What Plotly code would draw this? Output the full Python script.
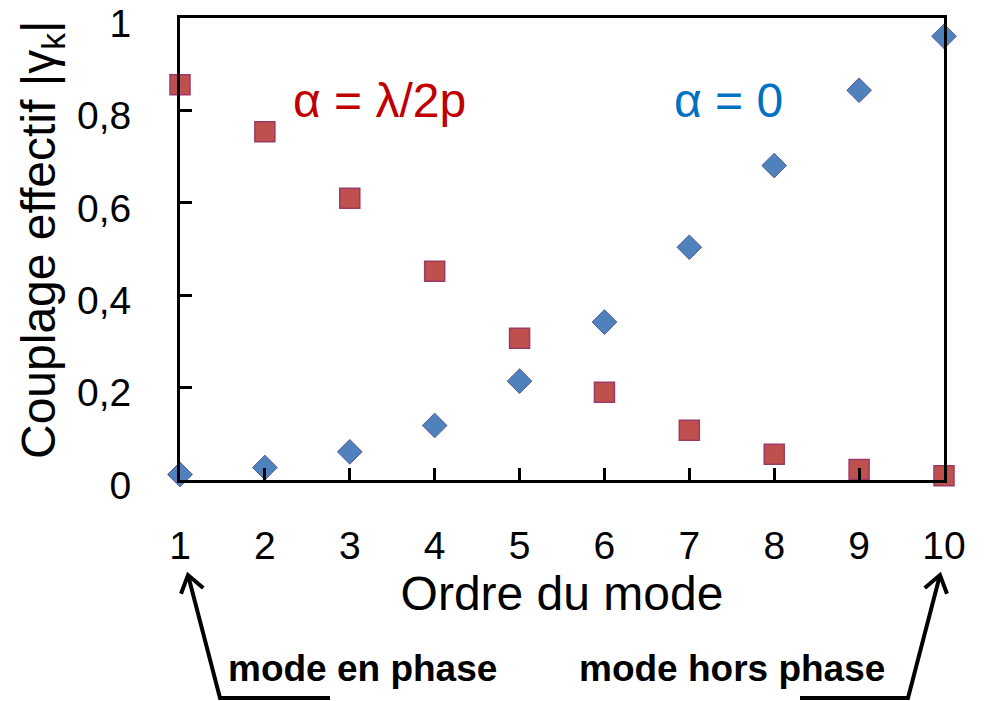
import plotly.graph_objects as go
import math

modes = [1, 2, 3, 4, 5, 6, 7, 8, 9, 10]
coupling_alpha0 = [0.012, 0.027, 0.061, 0.118, 0.214, 0.342, 0.504, 0.681, 0.844, 0.961]
coupling_alpha_half = [0.856, 0.754, 0.610, 0.452, 0.307, 0.190, 0.108, 0.056, 0.023, 0.009]
y_tick_vals = [0, 0.2, 0.4, 0.6, 0.8, 1]
y_tick_text = ["0", "0,2", "0,4", "0,6", "0,8", "1"]
x_tick_vals = modes
x_tick_text = [str(m) for m in modes]

# page offset (body margin) compensation
OFF = 8
W, H = 984 - OFF, 701 - OFF
L, R, T, B = 180 - OFF, 40, 18 - OFF, 221
PW, PH = W - L - R, H - T - B
FONT = "Liberation Sans, Arial, sans-serif"


def px(xs):
    # screen pixel -> paper x
    return (xs - OFF - L) / PW


def py(ys):
    # screen pixel -> paper y
    return (H - B - (ys - OFF)) / PH


fig = go.Figure()
fig.add_trace(go.Scatter(
    x=modes, y=coupling_alpha_half, mode="markers", cliponaxis=False,
    marker=dict(symbol="square", size=20, color="#C0504D",
                line=dict(color="#9A3A66", width=1.5)),
    showlegend=False))
fig.add_trace(go.Scatter(
    x=modes, y=coupling_alpha0, mode="markers", cliponaxis=False,
    marker=dict(symbol="diamond", size=19, color="#4F81BD",
                line=dict(color="#5A5A9A", width=1)),
    showlegend=False))

shapes = []
arrows = [((220, 698), (188, 575), (330, 698)),
          ((908, 698), (940, 575), (800, 698))]
for tail, tip, foot in arrows:
    shapes.append(dict(type="path", xref="paper", yref="paper",
                       path=f"M {px(foot[0])},{py(foot[1])} L {px(tail[0])},{py(tail[1])} L {px(tip[0])},{py(tip[1])}",
                       line=dict(color="black", width=4)))
    dx, dy = tip[0] - tail[0], tip[1] - tail[1]
    n = math.hypot(dx, dy)
    ux, uy = dx / n, dy / n
    pts = []
    for ang in (35, -35):
        a = math.radians(ang)
        rx = ux * math.cos(a) - uy * math.sin(a)
        ry = ux * math.sin(a) + uy * math.cos(a)
        pts.append((tip[0] - 20 * rx, tip[1] - 20 * ry))
    shapes.append(dict(type="path", xref="paper", yref="paper",
                       path=f"M {px(pts[0][0])},{py(pts[0][1])} L {px(tip[0])},{py(tip[1])} L {px(pts[1][0])},{py(pts[1][1])}",
                       line=dict(color="black", width=4)))


def label(text, xs, ys, size, color, bold=False, angle=0):
    return dict(text=f"<b>{text}</b>" if bold else text, x=px(xs), y=py(ys),
                xref="paper", yref="paper", xanchor="center", yanchor="middle",
                textangle=angle,
                showarrow=False, font=dict(size=size, color=color, family=FONT))


annotations = [
    label("α = λ/2p", 379, 100, 48, "#C00000"),
    label("α = 0", 728, 100, 48, "#0070C0"),
    label("mode en phase", 362, 668, 37, "black", True),
    label("mode hors phase", 732, 668, 37, "black", True),
    label("Couplage effectif |γ<sub>k</sub>|", 42, 240, 48, "black", angle=-90),
]

fig.update_layout(
    width=W, height=H,
    margin=dict(l=L, r=R, t=T, b=B, autoexpand=False),
    paper_bgcolor="white", plot_bgcolor="white",
    font=dict(family=FONT, color="black"),
    shapes=shapes, annotations=annotations,
)
fig.update_xaxes(
    range=[1, 10], tickvals=x_tick_vals, ticktext=x_tick_text,
    ticks="inside", ticklen=12, tickwidth=3, tickcolor="black",
    showline=True, linewidth=3, linecolor="black", mirror=True,
    showgrid=False, zeroline=False, tickfont=dict(size=39),
    ticklabelstandoff=29,
    title=dict(text="Ordre du mode", font=dict(size=48), standoff=6),
    automargin=False,
)
fig.update_yaxes(
    range=[0, 1.0005], tickvals=y_tick_vals, ticktext=y_tick_text,
    ticks="inside", ticklen=12, tickwidth=3, tickcolor="black",
    showline=True, linewidth=3, linecolor="black", mirror=True,
    showgrid=False, zeroline=False, tickfont=dict(size=39),
    ticklabelstandoff=38, ticklabelshift=5, ticklabeloverflow="allow",
    automargin=False,
)

fig.write_html("out.html")
